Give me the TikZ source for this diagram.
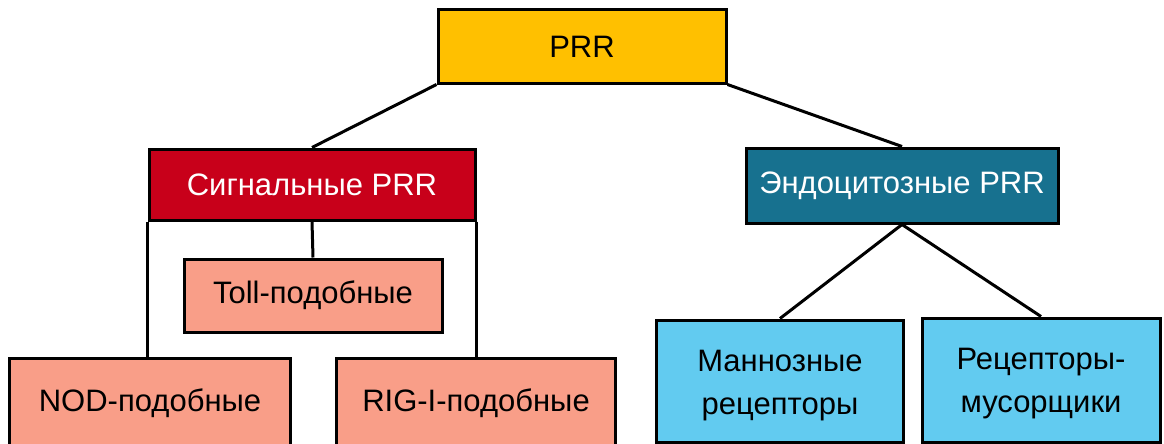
\documentclass[tikz,border=0pt]{standalone}
\usepackage{fontspec}
\setmainfont{Liberation Sans}
\definecolor{prryellow}{HTML}{FFC000}
\definecolor{sigred}{HTML}{C8001A}
\definecolor{endoblue}{HTML}{17718F}
\definecolor{salmon}{HTML}{F99E88}
\definecolor{lightblue}{HTML}{62CBF0}
\begin{document}
\begin{tikzpicture}[x=1pt,y=-1pt,
  box/.style={draw=black, line width=3pt, inner sep=0pt, font=\fontsize{31}{43}\selectfont, align=center},
  txt/.style={inner sep=0pt, font=\fontsize{31}{43}\selectfont, align=center},
  conn/.style={draw=black, line width=3pt}]
\useasboundingbox (0,0) rectangle (1164,444);
\node[box, fill=prryellow, minimum width=288pt, minimum height=73pt] (prr) at (582,46.5) {PRR};
\node[box, fill=sigred, text=white, minimum width=326pt, minimum height=71pt] (sig) at (312,184.5) {Сигнальные PRR};
\node[box, fill=endoblue, text=white, minimum width=312pt, minimum height=75pt] (endo) at (902,185.5) {Эндоцитозные PRR};
\node[box, fill=salmon, minimum width=258pt, minimum height=73pt] (toll) at (313,295.5) {Toll-подобные};
\node[box, fill=salmon, minimum width=281pt, minimum height=90pt] (nod) at (150,403) {NOD-подобные};
\node[box, fill=salmon, minimum width=279pt, minimum height=90pt] (rig) at (476,403) {RIG-I-подобные};
\node[box, fill=lightblue, minimum width=247pt, minimum height=122pt] (man) at (780,381) {};
\node[txt] (mantext) at (780,386) {Маннозные\\рецепторы};
\node[box, fill=lightblue, minimum width=238pt, minimum height=124pt] (scav) at (1041,380) {};
\node[txt] (scavtext) at (1041,384) {Рецепторы-\\мусорщики};
\draw[conn] (prr.south west) -- (sig.north);
\draw[conn] (prr.south east) -- (endo.north);
\draw[conn] (sig.south) -- (toll.north);
\draw[conn] (sig.south west) -- (sig.south west |- nod.north);
\draw[conn] (sig.south east) -- (sig.south east |- rig.north);
\draw[conn] (endo.south) -- (man.north);
\draw[conn] (endo.south) -- (scav.north);
\end{tikzpicture}
\end{document}
